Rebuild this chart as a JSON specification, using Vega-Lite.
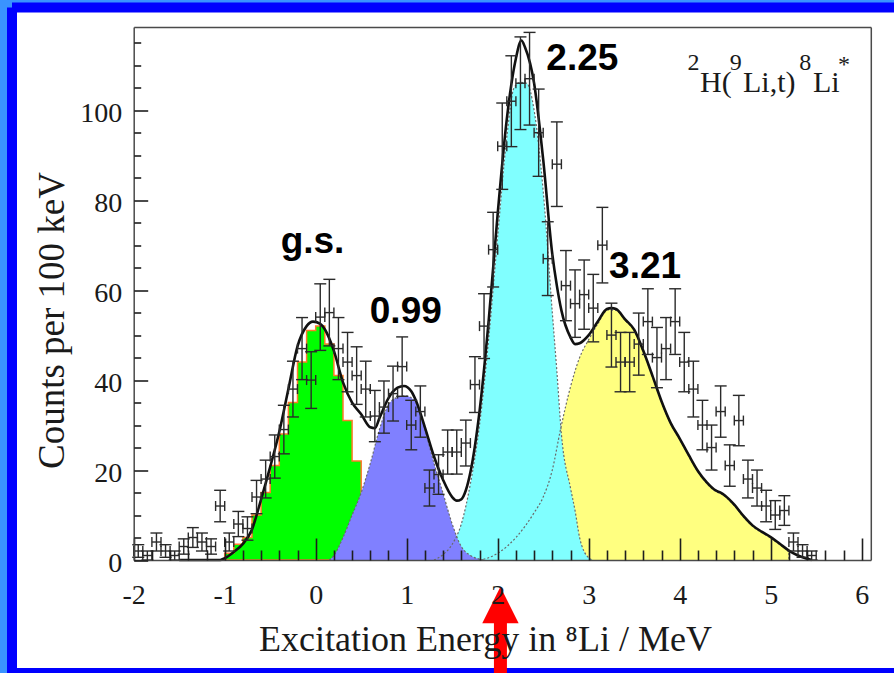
{
  "$schema": "https://vega.github.io/schema/vega-lite/v6.json",
  "width": 882,
  "height": 665.5,
  "autosize": "none",
  "padding": {"left": 12, "top": 7.5, "right": 0, "bottom": 0},
  "background": "#3a93ff",
  "view": {"fill": "#ffffff", "stroke": "#0000ff", "strokeWidth": 10, "strokeDash": [882, 665.5, 1547.5, 0]},
  "config": {
    "axis": {
      "grid": false,
      "domainColor": "#4a4a4a",
      "domainWidth": 1.5,
      "tickColor": "#1e1e1e",
      "tickWidth": 1.6,
      "labelFont": "Liberation Serif",
      "labelColor": "#1a1a1a",
      "titleFont": "Liberation Serif",
      "titleFontWeight": "normal",
      "titleColor": "#1a1a1a"
    }
  },
  "datasets": {
    "counts": [
      {"E": -1.95, "n": 2, "lo": 0.6, "hi": 3.4, "e0": -2.0, "e1": -1.9},
      {"E": -1.85, "n": 1, "lo": 0, "hi": 2, "e0": -1.9, "e1": -1.8},
      {"E": -1.75, "n": 4, "lo": 2, "hi": 6, "e0": -1.8, "e1": -1.7},
      {"E": -1.65, "n": 2, "lo": 0.6, "hi": 3.4, "e0": -1.7, "e1": -1.6},
      {"E": -1.55, "n": 1, "lo": 0, "hi": 2, "e0": -1.6, "e1": -1.5},
      {"E": -1.45, "n": 3, "lo": 1.3, "hi": 4.7, "e0": -1.5, "e1": -1.4},
      {"E": -1.35, "n": 5, "lo": 2.8, "hi": 7.2, "e0": -1.4, "e1": -1.3},
      {"E": -1.25, "n": 4, "lo": 2, "hi": 6, "e0": -1.3, "e1": -1.2},
      {"E": -1.15, "n": 3, "lo": 1.3, "hi": 4.7, "e0": -1.2, "e1": -1.1},
      {"E": -1.05, "n": 12, "lo": 8.5, "hi": 15.5, "e0": -1.1, "e1": -1.0},
      {"E": -0.95, "n": 4, "lo": 2, "hi": 6, "e0": -1.0, "e1": -0.9},
      {"E": -0.85, "n": 8, "lo": 5.2, "hi": 10.8, "e0": -0.9, "e1": -0.8},
      {"E": -0.75, "n": 7, "lo": 4.4, "hi": 9.6, "e0": -0.8, "e1": -0.7},
      {"E": -0.65, "n": 14, "lo": 10.3, "hi": 17.7, "e0": -0.7, "e1": -0.6},
      {"E": -0.55, "n": 18, "lo": 13.8, "hi": 22.2, "e0": -0.6, "e1": -0.5},
      {"E": -0.45, "n": 23, "lo": 18.2, "hi": 27.8, "e0": -0.5, "e1": -0.4},
      {"E": -0.35, "n": 29, "lo": 23.6, "hi": 34.4, "e0": -0.4, "e1": -0.3},
      {"E": -0.25, "n": 38, "lo": 31.8, "hi": 44.2, "e0": -0.3, "e1": -0.2},
      {"E": -0.15, "n": 47, "lo": 40.1, "hi": 53.9, "e0": -0.2, "e1": -0.1},
      {"E": -0.05, "n": 40, "lo": 33.7, "hi": 46.3, "e0": -0.1, "e1": 0.0},
      {"E": 0.05, "n": 54, "lo": 46.6, "hi": 61.4, "e0": 0.0, "e1": 0.1},
      {"E": 0.15, "n": 55, "lo": 47.6, "hi": 62.4, "e0": 0.1, "e1": 0.2},
      {"E": 0.25, "n": 47, "lo": 40.1, "hi": 53.9, "e0": 0.2, "e1": 0.3},
      {"E": 0.35, "n": 44, "lo": 37.4, "hi": 50.6, "e0": 0.3, "e1": 0.4},
      {"E": 0.45, "n": 41, "lo": 34.6, "hi": 47.4, "e0": 0.4, "e1": 0.5},
      {"E": 0.55, "n": 38, "lo": 31.8, "hi": 44.2, "e0": 0.5, "e1": 0.6},
      {"E": 0.65, "n": 32, "lo": 26.3, "hi": 37.7, "e0": 0.6, "e1": 0.7},
      {"E": 0.75, "n": 34, "lo": 28.2, "hi": 39.8, "e0": 0.7, "e1": 0.8},
      {"E": 0.85, "n": 37, "lo": 30.9, "hi": 43.1, "e0": 0.8, "e1": 0.9},
      {"E": 0.95, "n": 43, "lo": 36.4, "hi": 49.6, "e0": 0.9, "e1": 1.0},
      {"E": 1.05, "n": 30, "lo": 24.5, "hi": 35.5, "e0": 1.0, "e1": 1.1},
      {"E": 1.15, "n": 33, "lo": 27.3, "hi": 38.7, "e0": 1.1, "e1": 1.2},
      {"E": 1.25, "n": 16, "lo": 12, "hi": 20, "e0": 1.2, "e1": 1.3},
      {"E": 1.35, "n": 19, "lo": 14.6, "hi": 23.4, "e0": 1.3, "e1": 1.4},
      {"E": 1.45, "n": 24, "lo": 19.1, "hi": 28.9, "e0": 1.4, "e1": 1.5},
      {"E": 1.55, "n": 24, "lo": 19.1, "hi": 28.9, "e0": 1.5, "e1": 1.6},
      {"E": 1.65, "n": 26, "lo": 20.9, "hi": 31.1, "e0": 1.6, "e1": 1.7},
      {"E": 1.75, "n": 39, "lo": 32.8, "hi": 45.2, "e0": 1.7, "e1": 1.8},
      {"E": 1.85, "n": 52, "lo": 44.8, "hi": 59.2, "e0": 1.8, "e1": 1.9},
      {"E": 1.95, "n": 69, "lo": 60.7, "hi": 77.3, "e0": 1.9, "e1": 2.0},
      {"E": 2.05, "n": 92, "lo": 82.4, "hi": 101.6, "e0": 2.0, "e1": 2.1},
      {"E": 2.15, "n": 102, "lo": 91.9, "hi": 112.1, "e0": 2.1, "e1": 2.2},
      {"E": 2.25, "n": 106, "lo": 95.7, "hi": 116.3, "e0": 2.2, "e1": 2.3},
      {"E": 2.35, "n": 107, "lo": 96.7, "hi": 117.3, "e0": 2.3, "e1": 2.4},
      {"E": 2.45, "n": 95, "lo": 85.3, "hi": 104.7, "e0": 2.4, "e1": 2.5},
      {"E": 2.55, "n": 67, "lo": 58.8, "hi": 75.2, "e0": 2.5, "e1": 2.6},
      {"E": 2.65, "n": 88, "lo": 78.6, "hi": 97.4, "e0": 2.6, "e1": 2.7},
      {"E": 2.75, "n": 61, "lo": 53.2, "hi": 68.8, "e0": 2.7, "e1": 2.8},
      {"E": 2.85, "n": 57, "lo": 49.5, "hi": 64.5, "e0": 2.8, "e1": 2.9},
      {"E": 2.95, "n": 59, "lo": 51.3, "hi": 66.7, "e0": 2.9, "e1": 3.0},
      {"E": 3.05, "n": 56, "lo": 48.5, "hi": 63.5, "e0": 3.0, "e1": 3.1},
      {"E": 3.15, "n": 70, "lo": 61.6, "hi": 78.4, "e0": 3.1, "e1": 3.2},
      {"E": 3.25, "n": 50, "lo": 42.9, "hi": 57.1, "e0": 3.2, "e1": 3.3},
      {"E": 3.35, "n": 44, "lo": 37.4, "hi": 50.6, "e0": 3.3, "e1": 3.4},
      {"E": 3.45, "n": 44, "lo": 37.4, "hi": 50.6, "e0": 3.4, "e1": 3.5},
      {"E": 3.55, "n": 48, "lo": 41.1, "hi": 54.9, "e0": 3.5, "e1": 3.6},
      {"E": 3.65, "n": 53, "lo": 45.7, "hi": 60.3, "e0": 3.6, "e1": 3.7},
      {"E": 3.75, "n": 45, "lo": 38.3, "hi": 51.7, "e0": 3.7, "e1": 3.8},
      {"E": 3.85, "n": 47, "lo": 40.1, "hi": 53.9, "e0": 3.8, "e1": 3.9},
      {"E": 3.95, "n": 53, "lo": 45.7, "hi": 60.3, "e0": 3.9, "e1": 4.0},
      {"E": 4.05, "n": 44, "lo": 37.4, "hi": 50.6, "e0": 4.0, "e1": 4.1},
      {"E": 4.15, "n": 38, "lo": 31.8, "hi": 44.2, "e0": 4.1, "e1": 4.2},
      {"E": 4.25, "n": 30, "lo": 24.5, "hi": 35.5, "e0": 4.2, "e1": 4.3},
      {"E": 4.35, "n": 25, "lo": 20, "hi": 30, "e0": 4.3, "e1": 4.4},
      {"E": 4.45, "n": 33, "lo": 27.3, "hi": 38.7, "e0": 4.4, "e1": 4.5},
      {"E": 4.55, "n": 21, "lo": 16.4, "hi": 25.6, "e0": 4.5, "e1": 4.6},
      {"E": 4.65, "n": 31, "lo": 25.4, "hi": 36.6, "e0": 4.6, "e1": 4.7},
      {"E": 4.75, "n": 18, "lo": 13.8, "hi": 22.2, "e0": 4.7, "e1": 4.8},
      {"E": 4.85, "n": 16, "lo": 12, "hi": 20, "e0": 4.8, "e1": 4.9},
      {"E": 4.95, "n": 12, "lo": 8.5, "hi": 15.5, "e0": 4.9, "e1": 5.0},
      {"E": 5.05, "n": 10, "lo": 6.8, "hi": 13.2, "e0": 5.0, "e1": 5.1},
      {"E": 5.15, "n": 11, "lo": 7.7, "hi": 14.3, "e0": 5.1, "e1": 5.2},
      {"E": 5.25, "n": 4, "lo": 2, "hi": 6, "e0": 5.2, "e1": 5.3},
      {"E": 5.35, "n": 2, "lo": 0.6, "hi": 3.4, "e0": 5.3, "e1": 5.4},
      {"E": 5.45, "n": 1, "lo": 0, "hi": 2, "e0": 5.4, "e1": 5.5}
    ],
    "fit": [
      {"E": -1.5, "f": 0}, {"E": -1.05, "f": 0}, {"E": -1.0, "f": 0.4}, {"E": -0.9, "f": 1.8},
      {"E": -0.8, "f": 3.6}, {"E": -0.7, "f": 6.8}, {"E": -0.6, "f": 13.5}, {"E": -0.5, "f": 20.7},
      {"E": -0.4, "f": 28.5}, {"E": -0.3, "f": 38}, {"E": -0.2, "f": 47.5}, {"E": -0.1, "f": 52},
      {"E": -0.03, "f": 53}, {"E": 0.05, "f": 52.5}, {"E": 0.1, "f": 51.3}, {"E": 0.2, "f": 46.5},
      {"E": 0.3, "f": 39.5}, {"E": 0.4, "f": 35}, {"E": 0.5, "f": 32.4}, {"E": 0.6, "f": 29.5},
      {"E": 0.65, "f": 29.3}, {"E": 0.7, "f": 31.5}, {"E": 0.8, "f": 36}, {"E": 0.9, "f": 38.3},
      {"E": 0.97, "f": 38.7}, {"E": 1.05, "f": 37.5}, {"E": 1.1, "f": 35.5}, {"E": 1.2, "f": 29.5},
      {"E": 1.3, "f": 23}, {"E": 1.4, "f": 17.8}, {"E": 1.5, "f": 14}, {"E": 1.55, "f": 13.2},
      {"E": 1.6, "f": 13.5}, {"E": 1.65, "f": 15.5}, {"E": 1.7, "f": 19.5}, {"E": 1.8, "f": 33},
      {"E": 1.9, "f": 53}, {"E": 2.0, "f": 77}, {"E": 2.1, "f": 98}, {"E": 2.2, "f": 111.5},
      {"E": 2.26, "f": 115.5}, {"E": 2.3, "f": 114}, {"E": 2.4, "f": 106}, {"E": 2.5, "f": 89},
      {"E": 2.6, "f": 68}, {"E": 2.65, "f": 61}, {"E": 2.7, "f": 55.5}, {"E": 2.8, "f": 49.5},
      {"E": 2.85, "f": 48}, {"E": 2.9, "f": 48.2}, {"E": 3.0, "f": 50}, {"E": 3.1, "f": 53},
      {"E": 3.2, "f": 55.8}, {"E": 3.25, "f": 56}, {"E": 3.3, "f": 55.8}, {"E": 3.4, "f": 53.5},
      {"E": 3.5, "f": 51.2}, {"E": 3.6, "f": 46.5}, {"E": 3.7, "f": 41}, {"E": 3.8, "f": 35.3},
      {"E": 3.9, "f": 30.5}, {"E": 4.0, "f": 27}, {"E": 4.1, "f": 23.3}, {"E": 4.2, "f": 19.8},
      {"E": 4.3, "f": 17.2}, {"E": 4.4, "f": 15.4}, {"E": 4.45, "f": 15}, {"E": 4.5, "f": 14.3},
      {"E": 4.6, "f": 12.3}, {"E": 4.7, "f": 9.8}, {"E": 4.8, "f": 7.7}, {"E": 4.9, "f": 6.3},
      {"E": 5.0, "f": 5.1}, {"E": 5.1, "f": 3.6}, {"E": 5.2, "f": 2.1}, {"E": 5.3, "f": 1.0},
      {"E": 5.4, "f": 0.3}, {"E": 5.45, "f": 0}
    ],
    "gs": [
      {"E": -1.05, "f": 0}, {"E": -0.95, "f": 1.5}, {"E": -0.85, "f": 3.5}, {"E": -0.75, "f": 5},
      {"E": -0.65, "f": 10}, {"E": -0.55, "f": 15}, {"E": -0.45, "f": 21}, {"E": -0.35, "f": 28},
      {"E": -0.25, "f": 35}, {"E": -0.15, "f": 44}, {"E": -0.05, "f": 51}, {"E": 0.05, "f": 52},
      {"E": 0.15, "f": 48}, {"E": 0.25, "f": 41}, {"E": 0.35, "f": 31}, {"E": 0.45, "f": 22},
      {"E": 0.55, "f": 15}, {"E": 0.65, "f": 8}, {"E": 0.75, "f": 3}, {"E": 0.85, "f": 0}
    ],
    "s099": [
      {"E": 0.15, "f": 0}, {"E": 0.2, "f": 1}, {"E": 0.3, "f": 5}, {"E": 0.4, "f": 10},
      {"E": 0.5, "f": 15}, {"E": 0.6, "f": 21.5}, {"E": 0.7, "f": 29}, {"E": 0.8, "f": 34.5},
      {"E": 0.9, "f": 36.2}, {"E": 0.99, "f": 36.5}, {"E": 1.1, "f": 35}, {"E": 1.2, "f": 29},
      {"E": 1.3, "f": 21.5}, {"E": 1.4, "f": 14.8}, {"E": 1.5, "f": 8}, {"E": 1.6, "f": 3},
      {"E": 1.7, "f": 1}, {"E": 1.85, "f": 0}
    ],
    "s225": [
      {"E": 1.3, "f": 0}, {"E": 1.4, "f": 1.2}, {"E": 1.5, "f": 3.5}, {"E": 1.6, "f": 8},
      {"E": 1.7, "f": 17}, {"E": 1.8, "f": 30}, {"E": 1.9, "f": 49}, {"E": 2.0, "f": 72},
      {"E": 2.1, "f": 94}, {"E": 2.18, "f": 105}, {"E": 2.25, "f": 106.2}, {"E": 2.32, "f": 106},
      {"E": 2.4, "f": 100}, {"E": 2.5, "f": 82}, {"E": 2.6, "f": 55}, {"E": 2.65, "f": 42},
      {"E": 2.7, "f": 28}, {"E": 2.8, "f": 16}, {"E": 2.85, "f": 11}, {"E": 2.9, "f": 5},
      {"E": 3.0, "f": 0.5}, {"E": 3.05, "f": 0}
    ],
    "s321": [
      {"E": 1.8, "f": 0}, {"E": 1.9, "f": 0.5}, {"E": 2.0, "f": 1.5}, {"E": 2.1, "f": 3},
      {"E": 2.2, "f": 5}, {"E": 2.3, "f": 7.5}, {"E": 2.4, "f": 10.5}, {"E": 2.5, "f": 14},
      {"E": 2.6, "f": 20}, {"E": 2.69, "f": 29}, {"E": 2.8, "f": 38.5}, {"E": 2.9, "f": 45},
      {"E": 3.0, "f": 49}, {"E": 3.1, "f": 52.5}, {"E": 3.21, "f": 55.6}, {"E": 3.3, "f": 55.5},
      {"E": 3.4, "f": 53.3}, {"E": 3.5, "f": 51}, {"E": 3.6, "f": 46.3}, {"E": 3.7, "f": 40.8},
      {"E": 3.8, "f": 35.1}, {"E": 3.9, "f": 30.3}, {"E": 4.0, "f": 26.8}, {"E": 4.1, "f": 23.1},
      {"E": 4.2, "f": 19.6}, {"E": 4.3, "f": 17}, {"E": 4.4, "f": 15.2}, {"E": 4.45, "f": 14.8},
      {"E": 4.5, "f": 14.1}, {"E": 4.6, "f": 12.1}, {"E": 4.7, "f": 9.6}, {"E": 4.8, "f": 7.5},
      {"E": 4.9, "f": 6.1}, {"E": 5.0, "f": 4.9}, {"E": 5.1, "f": 3.4}, {"E": 5.2, "f": 2},
      {"E": 5.201, "f": 0}
    ],
    "tags": [
      {"E": -0.035, "c": 68.2, "t": "g.s."},
      {"E": 0.99, "c": 52.7, "t": "0.99"},
      {"E": 2.93, "c": 108.9, "t": "2.25"},
      {"E": 3.62, "c": 62.6, "t": "3.21"}
    ],
    "reaction": [
      {"E": 4.223, "c": 104, "t": "H("},
      {"E": 4.696, "c": 104, "t": "Li,t)"},
      {"E": 5.465, "c": 104, "t": "Li"}
    ],
    "reactionSup": [
      {"E": 4.085, "c": 109.0, "t": "2"},
      {"E": 4.55, "c": 109.0, "t": "9"},
      {"E": 5.315, "c": 109.0, "t": "8"},
      {"E": 5.74, "c": 108.4, "t": "*"}
    ],
    "marker": [
      {"E": 2.03, "head": -10, "base": -13.5, "tail": -26}
    ]
  },
  "resolve": {"axis": {"x": "independent", "y": "independent"}},
  "layer": [
    {
      "data": {"name": "gs"},
      "mark": {"type": "area", "interpolate": "step", "fill": "#00ff00", "stroke": "#ff7a2a", "strokeWidth": 1.5, "opacity": 1},
      "encoding": {
        "x": {
          "field": "E", "type": "quantitative",
          "scale": {"domain": [-2, 6.1], "range": [121.7, 858.8], "nice": false, "zero": false},
          "axis": {
            "orient": "bottom", "offset": -113, "values": [-2, -1, 0, 1, 2, 3, 4, 5, 6], "zindex": 2,
            "ticks": false, "labelFontSize": 28, "labelPadding": 21, "labelFlush": false, "labelOverlap": false,
            "labelExpr": "replace(datum.label, '−', '-')",
            "title": "Excitation Energy in ⁸Li / MeV", "titleFontSize": 36,
            "titleX": 473, "titleY": 90, "titleBaseline": "alphabetic", "titleAlign": "center"
          }
        },
        "y": {
          "field": "f", "type": "quantitative",
          "scale": {"domain": [0, 118.5], "range": [552.5, 19.5], "nice": false, "zero": false},
          "axis": {
            "orient": "left", "offset": -121.7, "values": [0, 20, 40, 60, 80, 100], "zindex": 2,
            "ticks": false, "labelFontSize": 28, "labelPadding": 12, "labelOffset": 3, "labelBaseline": "middle",
            "labelOverlap": false,
            "title": "Counts per 100 keV", "titleFontSize": 37, "titleAngle": -90,
            "titleX": -70, "titleY": 312.5, "titleBaseline": "alphabetic", "titleAlign": "center"
          }
        }
      }
    },
    {
      "data": {"name": "s321"},
      "mark": {"type": "area", "interpolate": "monotone", "fill": "#ffff80", "opacity": 1},
      "encoding": {
        "x": {"field": "E", "type": "quantitative",
              "axis": {"orient": "bottom", "offset": -135, "values": [-2, -1, 0, 1, 2, 3, 4, 5, 6], "zindex": 2,
                       "ticks": true, "tickSize": 22, "labels": false, "domain": false, "title": null}},
        "y": {"field": "f", "type": "quantitative",
              "axis": {"orient": "left", "offset": -135.7, "values": [0, 20, 40, 60, 80, 100], "zindex": 2,
                       "ticks": true, "tickSize": 14, "labels": false, "domain": false, "title": null}}
      }
    },
    {
      "data": {"name": "s225"},
      "mark": {"type": "area", "interpolate": "monotone", "fill": "#80ffff", "opacity": 1},
      "encoding": {
        "x": {"field": "E", "type": "quantitative",
              "axis": {"orient": "bottom", "offset": -123, "zindex": 2,
                       "values": [-1.8, -1.6, -1.4, -1.2, -0.8, -0.6, -0.4, -0.2, 0.2, 0.4, 0.6, 0.8, 1.2, 1.4, 1.6, 1.8, 2.2, 2.4, 2.6, 2.8, 3.2, 3.4, 3.6, 3.8, 4.2, 4.4, 4.6, 4.8, 5.2, 5.4, 5.6, 5.8],
                       "ticks": true, "tickSize": 10, "labels": false, "domain": false, "title": null}},
        "y": {"field": "f", "type": "quantitative",
              "axis": {"orient": "left", "offset": -128.7, "zindex": 2,
                       "values": [5, 10, 15, 25, 30, 35, 45, 50, 55, 65, 70, 75, 85, 90, 95, 105, 110, 115],
                       "ticks": true, "tickSize": 7, "labels": false, "domain": false, "title": null}}
      }
    },
    {
      "data": {"name": "s099"},
      "mark": {"type": "area", "interpolate": "monotone", "fill": "#8080ff", "opacity": 1},
      "encoding": {
        "x": {"field": "E", "type": "quantitative",
              "axis": {"orient": "top", "offset": -19.5, "zindex": 2, "ticks": false, "labels": false, "domain": true, "title": null}},
        "y": {"field": "f", "type": "quantitative",
              "axis": {"orient": "right", "offset": -23.2, "zindex": 2, "ticks": false, "labels": false, "domain": true, "title": null}}
      }
    },
    {
      "data": {"name": "s321"},
      "mark": {"type": "line", "interpolate": "monotone", "color": "#6a6a6a", "strokeWidth": 1.2, "strokeDash": [2, 2]},
      "encoding": {
        "x": {"field": "E", "type": "quantitative", "axis": null},
        "y": {"field": "f", "type": "quantitative", "axis": null}
      }
    },
    {
      "data": {"name": "s225"},
      "mark": {"type": "line", "interpolate": "monotone", "color": "#6a6a6a", "strokeWidth": 1.2, "strokeDash": [2, 2]},
      "encoding": {
        "x": {"field": "E", "type": "quantitative", "axis": null},
        "y": {"field": "f", "type": "quantitative", "axis": null}
      }
    },
    {
      "data": {"name": "s099"},
      "mark": {"type": "line", "interpolate": "monotone", "color": "#6a6a6a", "strokeWidth": 1.2, "strokeDash": [2, 2]},
      "encoding": {
        "x": {"field": "E", "type": "quantitative", "axis": null},
        "y": {"field": "f", "type": "quantitative", "axis": null}
      }
    },
    {
      "data": {"name": "fit"},
      "mark": {"type": "line", "interpolate": "monotone", "color": "#111111", "strokeWidth": 2.6},
      "encoding": {
        "x": {"field": "E", "type": "quantitative", "axis": null},
        "y": {"field": "f", "type": "quantitative", "axis": null}
      }
    },
    {
      "data": {"name": "counts"},
      "mark": {"type": "rule", "color": "#2a2a2a", "strokeWidth": 1.4},
      "encoding": {
        "x": {"field": "E", "type": "quantitative", "axis": null},
        "y": {"field": "lo", "type": "quantitative", "axis": null},
        "y2": {"field": "hi"}
      }
    },
    {
      "data": {"name": "counts"},
      "mark": {"type": "tick", "orient": "horizontal", "size": 12, "thickness": 1.4, "color": "#2a2a2a", "opacity": 1},
      "encoding": {
        "x": {"field": "E", "type": "quantitative", "axis": null},
        "y": {"field": "lo", "type": "quantitative", "axis": null}
      }
    },
    {
      "data": {"name": "counts"},
      "mark": {"type": "tick", "orient": "horizontal", "size": 12, "thickness": 1.4, "color": "#2a2a2a", "opacity": 1},
      "encoding": {
        "x": {"field": "E", "type": "quantitative", "axis": null},
        "y": {"field": "hi", "type": "quantitative", "axis": null}
      }
    },
    {
      "data": {"name": "counts"},
      "mark": {"type": "rule", "color": "#2a2a2a", "strokeWidth": 1.4},
      "encoding": {
        "x": {"field": "e0", "type": "quantitative", "axis": null},
        "x2": {"field": "e1"},
        "y": {"field": "n", "type": "quantitative", "axis": null}
      }
    },
    {
      "data": {"name": "counts"},
      "mark": {"type": "tick", "orient": "vertical", "size": 10, "thickness": 1.4, "color": "#2a2a2a", "opacity": 1},
      "encoding": {
        "x": {"field": "e0", "type": "quantitative", "axis": null},
        "y": {"field": "n", "type": "quantitative", "axis": null}
      }
    },
    {
      "data": {"name": "counts"},
      "mark": {"type": "tick", "orient": "vertical", "size": 10, "thickness": 1.4, "color": "#2a2a2a", "opacity": 1},
      "encoding": {
        "x": {"field": "e1", "type": "quantitative", "axis": null},
        "y": {"field": "n", "type": "quantitative", "axis": null}
      }
    },
    {
      "data": {"name": "tags"},
      "mark": {"type": "text", "font": "Liberation Sans", "fontWeight": "bold", "fontSize": 37, "align": "center", "baseline": "alphabetic", "color": "#000000"},
      "encoding": {
        "x": {"field": "E", "type": "quantitative", "axis": null},
        "y": {"field": "c", "type": "quantitative", "axis": null},
        "text": {"field": "t"}
      }
    },
    {
      "data": {"name": "reaction"},
      "mark": {"type": "text", "font": "Liberation Serif", "fontSize": 30, "align": "left", "baseline": "alphabetic", "color": "#1a1a1a"},
      "encoding": {
        "x": {"field": "E", "type": "quantitative", "axis": null},
        "y": {"field": "c", "type": "quantitative", "axis": null},
        "text": {"field": "t"}
      }
    },
    {
      "data": {"name": "reactionSup"},
      "mark": {"type": "text", "font": "Liberation Serif", "fontSize": 24, "align": "left", "baseline": "alphabetic", "color": "#1a1a1a"},
      "encoding": {
        "x": {"field": "E", "type": "quantitative", "axis": null},
        "y": {"field": "c", "type": "quantitative", "axis": null},
        "text": {"field": "t"}
      }
    },
    {
      "data": {"name": "marker"},
      "mark": {"type": "rule", "color": "#ff0000", "strokeWidth": 13, "strokeCap": "butt"},
      "encoding": {
        "x": {"field": "E", "type": "quantitative", "axis": null},
        "y": {"field": "base", "type": "quantitative", "axis": null},
        "y2": {"field": "tail"}
      }
    },
    {
      "data": {"name": "marker"},
      "mark": {"type": "point", "shape": "M0,-1L1,1L-1,1Z", "size": 1320, "filled": true, "fill": "#ff0000", "strokeWidth": 0, "opacity": 1},
      "encoding": {
        "x": {"field": "E", "type": "quantitative", "axis": null},
        "y": {"field": "head", "type": "quantitative", "axis": null}
      }
    }
  ]
}
